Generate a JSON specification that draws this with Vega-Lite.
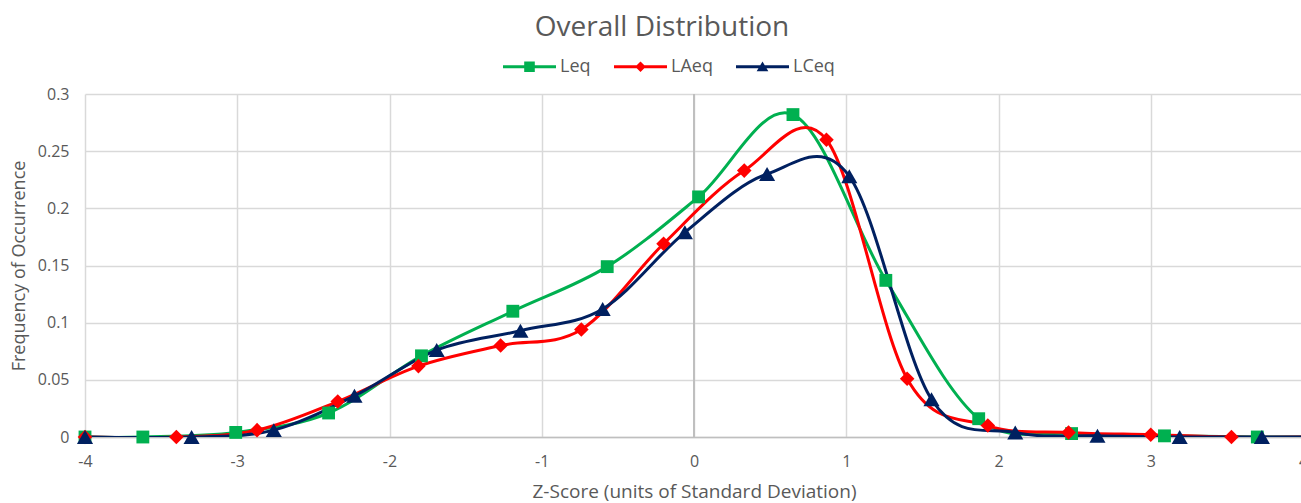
{
  "$schema": "https://vega.github.io/schema/vega-lite/v6.json",
  "width": 1218,
  "height": 343,
  "autosize": {"type": "none"},
  "padding": {"left": 85, "top": 94, "right": 0, "bottom": 66},
  "background": "white",
  "title": {
    "text": "Overall Distribution",
    "font": "Open Sans",
    "fontSize": 28,
    "fontWeight": "normal",
    "color": "#595959",
    "anchor": "middle",
    "dx": -32,
    "offset": -2
  },
  "config": {
    "view": {"stroke": null},
    "font": "Open Sans"
  },
  "data": {
    "values": [
      {"series": "Leq", "x": -4.0, "y": 0.0},
      {"series": "Leq", "x": -3.62, "y": 0.0},
      {"series": "Leq", "x": -3.01, "y": 0.004},
      {"series": "Leq", "x": -2.40, "y": 0.021},
      {"series": "Leq", "x": -1.79, "y": 0.071},
      {"series": "Leq", "x": -1.19, "y": 0.110},
      {"series": "Leq", "x": -0.57, "y": 0.149},
      {"series": "Leq", "x": 0.03, "y": 0.210},
      {"series": "Leq", "x": 0.65, "y": 0.282},
      {"series": "Leq", "x": 1.26, "y": 0.137},
      {"series": "Leq", "x": 1.87, "y": 0.016},
      {"series": "Leq", "x": 2.48, "y": 0.003},
      {"series": "Leq", "x": 3.09, "y": 0.001},
      {"series": "Leq", "x": 3.70, "y": 0.0},
      {"series": "Leq", "x": 4.31, "y": 0.0},
      {"series": "LAeq", "x": -4.0, "y": 0.0},
      {"series": "LAeq", "x": -3.40, "y": 0.0},
      {"series": "LAeq", "x": -2.87, "y": 0.006},
      {"series": "LAeq", "x": -2.34, "y": 0.031},
      {"series": "LAeq", "x": -1.81, "y": 0.062},
      {"series": "LAeq", "x": -1.27, "y": 0.080},
      {"series": "LAeq", "x": -0.74, "y": 0.094},
      {"series": "LAeq", "x": -0.20, "y": 0.169},
      {"series": "LAeq", "x": 0.33, "y": 0.233},
      {"series": "LAeq", "x": 0.87, "y": 0.260},
      {"series": "LAeq", "x": 1.40, "y": 0.051},
      {"series": "LAeq", "x": 1.93, "y": 0.010},
      {"series": "LAeq", "x": 2.46, "y": 0.004},
      {"series": "LAeq", "x": 3.00, "y": 0.002},
      {"series": "LAeq", "x": 3.53, "y": 0.0},
      {"series": "LAeq", "x": 4.07, "y": 0.0},
      {"series": "LCeq", "x": -4.0, "y": 0.0},
      {"series": "LCeq", "x": -3.30, "y": 0.0},
      {"series": "LCeq", "x": -2.76, "y": 0.006},
      {"series": "LCeq", "x": -2.23, "y": 0.036},
      {"series": "LCeq", "x": -1.69, "y": 0.076},
      {"series": "LCeq", "x": -1.14, "y": 0.093},
      {"series": "LCeq", "x": -0.60, "y": 0.112},
      {"series": "LCeq", "x": -0.06, "y": 0.179},
      {"series": "LCeq", "x": 0.48, "y": 0.230},
      {"series": "LCeq", "x": 1.02, "y": 0.228},
      {"series": "LCeq", "x": 1.56, "y": 0.033},
      {"series": "LCeq", "x": 2.11, "y": 0.004},
      {"series": "LCeq", "x": 2.65, "y": 0.001},
      {"series": "LCeq", "x": 3.19, "y": 0.0},
      {"series": "LCeq", "x": 3.73, "y": 0.0},
      {"series": "LCeq", "x": 4.27, "y": 0.0}
    ]
  },
  "resolve": {
    "scale": {"color": "independent", "shape": "independent", "size": "independent"},
    "legend": {"color": "independent", "shape": "independent", "size": "independent"}
  },
  "layer": [
    {
      "mark": {"type": "rule", "color": "#bfbfbf", "strokeWidth": 1.5},
      "encoding": {"x": {"datum": 0, "type": "quantitative"}}
    },
    {
      "mark": {"type": "line", "interpolate": "cardinal", "tension": 0, "strokeWidth": 3, "clip": true},
      "encoding": {
        "x": {
          "field": "x", "type": "quantitative",
          "scale": {"domain": [-4, 4], "nice": false, "zero": false},
          "axis": {
            "values": [-4, -3, -2, -1, 0, 1, 2, 3, 4],
            "labelExpr": "datum.value + ''",
            "labelFlush": false,
            "title": "Z-Score (units of Standard Deviation)",
            "titleFont": "Open Sans", "titleFontSize": 19, "titleFontWeight": "normal", "titleColor": "#595959",
            "titlePadding": 13,
            "labelFont": "Open Sans", "labelFontSize": 16, "labelColor": "#595959", "labelPadding": 16,
            "ticks": false, "tickSize": 0,
            "domainColor": "#bfbfbf", "domainWidth": 1.5,
            "grid": true, "gridColor": "#d9d9d9", "gridWidth": 1.5
          }
        },
        "y": {
          "field": "y", "type": "quantitative",
          "scale": {"domain": [0, 0.3], "nice": false},
          "axis": {
            "values": [0, 0.05, 0.1, 0.15, 0.2, 0.25, 0.3],
            "format": "~g",
            "title": "Frequency of Occurrence",
            "titleFont": "Open Sans", "titleFontSize": 18, "titleFontWeight": "normal", "titleColor": "#595959",
            "titlePadding": 9,
            "labelFont": "Open Sans", "labelFontSize": 16, "labelColor": "#595959", "labelPadding": 16,
            "ticks": false, "tickSize": 0, "domain": false,
            "grid": true, "gridColor": "#d9d9d9", "gridWidth": 1.5
          }
        },
        "color": {
          "field": "series", "type": "nominal",
          "scale": {"domain": ["Leq", "LAeq", "LCeq"], "range": ["#00b050", "#ff0000", "#002060"]},
          "legend": null
        }
      }
    },
    {
      "mark": {"type": "point", "filled": true, "opacity": 1, "clip": false},
      "encoding": {
        "x": {"field": "x", "type": "quantitative"},
        "y": {"field": "y", "type": "quantitative"},
        "color": {
          "field": "series", "type": "nominal",
          "scale": {"domain": ["Leq", "LAeq", "LCeq"], "range": ["#00b050", "#ff0000", "#002060"]},
          "legend": null
        },
        "shape": {
          "field": "series", "type": "nominal",
          "scale": {"domain": ["Leq", "LAeq", "LCeq"], "range": ["square", "diamond", "triangle-up"]},
          "legend": null
        },
        "size": {
          "field": "series", "type": "nominal",
          "scale": {"domain": ["Leq", "LAeq", "LCeq"], "range": [165, 260, 240]},
          "legend": null
        }
      }
    },
    {
      "mark": {"type": "point", "filled": true, "opacity": 0, "size": 1},
      "encoding": {
        "x": {"field": "x", "type": "quantitative"},
        "y": {"field": "y", "type": "quantitative"},
        "color": {
          "field": "series", "type": "nominal",
          "scale": {"domain": ["Leq", "LAeq", "LCeq"], "range": ["#00b050", "#ff0000", "#002060"]},
          "legend": {
            "title": null, "orient": "none", "legendX": 418, "legendY": -54, "direction": "horizontal",
            "labelFont": "Open Sans", "labelFontSize": 18, "labelColor": "#595959", "labelOffset": 4,
            "columnPadding": 23, "symbolSize": 2809, "symbolOpacity": 1, "symbolStrokeWidth": 0, "padding": 0
          }
        },
        "shape": {
          "field": "series", "type": "nominal",
          "scale": {"domain": ["Leq", "LAeq", "LCeq"], "range": [
            "M-1,-0.055H1V0.055H-1Z M-0.2,-0.2H0.2V0.2H-0.2Z",
            "M-1,-0.055H1V0.055H-1Z M0,-0.2L0.2,0L0,0.2L-0.2,0Z",
            "M-1,-0.055H1V0.055H-1Z M0,-0.2L0.22,0.17L-0.22,0.17Z"
          ]},
          "legend": {
            "title": null, "orient": "none", "legendX": 418, "legendY": -54, "direction": "horizontal",
            "labelFont": "Open Sans", "labelFontSize": 18, "labelColor": "#595959", "labelOffset": 4,
            "columnPadding": 23, "symbolSize": 2809, "symbolOpacity": 1, "symbolStrokeWidth": 0, "padding": 0
          }
        }
      }
    }
  ]
}
